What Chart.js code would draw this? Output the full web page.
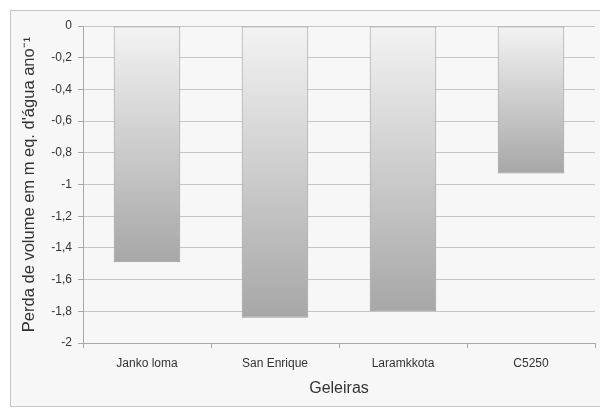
<!DOCTYPE html>
<html>
<head>
<meta charset="utf-8">
<script src="https://cdn.jsdelivr.net/npm/chart.js@4/dist/chart.umd.min.js"></script>
<style>
html,body{margin:0;padding:0;background:#ffffff;}
#wrap{width:600px;height:410px;position:relative;}
</style>
</head>
<body>
<div id="wrap"><canvas id="c" width="600" height="410"></canvas></div>
<script>
const categories = ['Janko loma', 'San Enrique', 'Laramkkota', 'C5250'];
const volumeLoss = [-1.49, -1.84, -1.80, -0.93];
const yTickMin = -2;
const yTickMax = 0;
const yTickStep = 0.2;
const yTitle = "Perda de volume em m eq. d'água ano\u207B\u00B9";
const xTitle = 'Geleiras';

const framePlugin = {
  id: 'frame',
  beforeDraw(chart) {
    const ctx = chart.ctx;
    ctx.save();
    ctx.fillStyle = '#ffffff';
    ctx.fillRect(0, 0, chart.width, chart.height);
    ctx.fillStyle = '#f7f7f7';
    ctx.fillRect(10.5, 10.5, 600, 396);
    ctx.strokeStyle = '#c6c6c6';
    ctx.lineWidth = 1;
    ctx.strokeRect(10.5, 10.5, 600, 396);
    ctx.restore();
  }
};

function barGradient(context) {
  const chart = context.chart;
  const area = chart.chartArea;
  if (!area || !chart.scales.y) return '#c8c8c8';
  const v = context.raw;
  const y0 = chart.scales.y.getPixelForValue(0);
  const y1 = chart.scales.y.getPixelForValue(v);
  if (!isFinite(y0) || !isFinite(y1) || y0 === y1) return '#c8c8c8';
  const g = chart.ctx.createLinearGradient(0, y0, 0, y1);
  g.addColorStop(0, '#f3f3f3');
  g.addColorStop(1, '#a7a7a7');
  return g;
}

new Chart(document.getElementById('c'), {
  type: 'bar',
  data: {
    labels: categories,
    datasets: [{
      data: volumeLoss,
      backgroundColor: barGradient,
      borderColor: '#9c9c9c',
      borderWidth: 1,
      borderSkipped: false,
      categoryPercentage: 1,
      barPercentage: 0.52
    }]
  },
  plugins: [framePlugin],
  options: {
    responsive: false,
    animation: false,
    devicePixelRatio: 1,
    layout: { padding: { top: 26, right: 5, left: 12, bottom: 12 } },
    plugins: {
      legend: { display: false },
      tooltip: { enabled: false }
    },
    scales: {
      x: {
        position: 'bottom',
        offset: true,
        grid: {
          offset: true,
          drawOnChartArea: false,
          drawTicks: true,
          tickLength: 5,
          color: '#a8a8a8'
        },
        border: { display: true, color: '#a8a8a8' },
        ticks: {
          color: '#333333',
          font: { family: 'Liberation Sans, Arial, sans-serif', size: 12 },
          padding: 8,
          maxRotation: 0
        },
        title: {
          display: true,
          text: xTitle,
          color: '#333333',
          font: { family: 'Liberation Sans, Arial, sans-serif', size: 16 },
          padding: { top: 2, bottom: 0 }
        },
        afterFit(scale) { scale.height = 55; }
      },
      y: {
        min: yTickMin,
        max: yTickMax,
        grid: {
          color: '#c6c6c6',
          drawTicks: true,
          tickLength: 5,
          tickColor: '#a8a8a8'
        },
        border: { display: true, color: '#a8a8a8' },
        ticks: {
          stepSize: yTickStep,
          color: '#333333',
          font: { family: 'Liberation Sans, Arial, sans-serif', size: 12 },
          padding: 6,
          callback(v) {
            const n = Number(Number(v).toFixed(1));
            return (n === 0 ? '0' : String(n)).replace('.', ',');
          }
        },
        title: {
          display: true,
          text: yTitle,
          color: '#333333',
          font: { family: 'Liberation Sans, Arial, sans-serif', size: 16.5 },
          padding: { top: 8, bottom: 0 }
        },
        afterFit(scale) { scale.width = 71; }
      }
    }
  }
});
</script>
</body>
</html>
